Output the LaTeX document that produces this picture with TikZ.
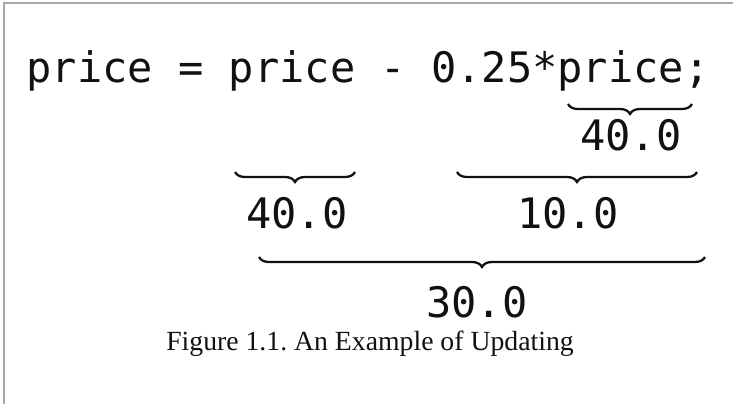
\documentclass[tikz,border=0pt]{standalone}
\usepackage{fontspec}
\usepackage{tikz}
\usetikzlibrary{decorations.pathreplacing}
\setmainfont{Liberation Serif}
\newfontfamily\codefont{DejaVu Sans Mono}
\frenchspacing
\definecolor{frame}{HTML}{A8A8A8}
\definecolor{ink}{HTML}{111111}
\tikzset{
  every node/.style={inner sep=0pt,anchor=base,color=ink},
  code/.style={font=\codefont\fontsize{31.5}{36}\selectfont},
  val/.style={code},
  figcap/.style={font=\fontsize{20.8}{24}\selectfont},
  brc/.style={draw=ink,decorate,decoration={brace,mirror,amplitude=7.5pt},line width=1.7pt},
  rule/.style={draw=frame,line width=1.5pt},
}

\begin{document}
\begin{tikzpicture}[x=0.75pt,y=-0.75pt]
\useasboundingbox (0,0) rectangle (733,404);
% page frame
\draw[rule] (4,404) -- (4,3) -- (733,3);

% the statement
\node[code] (stmt) at (368,82) {price = price - 0.25*price;};

% price -> 40.0
\coordinate (p0) at (568,104);
\coordinate (p1) at (692,104);
\draw[brc] (p0) -- (p1);
\node[val] (v40a) at (631,150) {40.0};

% second level
\coordinate (q0) at (235,172);
\coordinate (q1) at (355,172);
\coordinate (r0) at (457,172);
\coordinate (r1) at (697,172);
\draw[brc] (q0) -- (q1);
\draw[brc] (r0) -- (r1);
\node[val] (v40b) at (297,228) {40.0};
\node[val] (v10) at (568,228) {10.0};

% result
\coordinate (s0) at (259,257);
\coordinate (s1) at (705,257);
\draw[brc] (s0) -- (s1);
\node[val] (v30) at (477,317) {30.0};

% caption
\node[figcap] (fig) at (370,350) {Figure 1.1. An Example of Updating};
\end{tikzpicture}
\end{document}
